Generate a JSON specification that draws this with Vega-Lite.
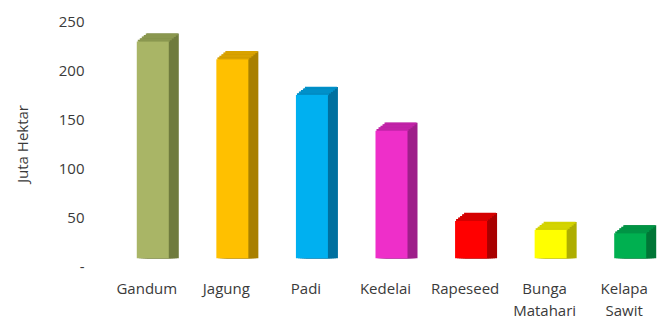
{
  "$schema": "https://vega.github.io/schema/vega-lite/v6.json",
  "width": 557,
  "height": 245,
  "autosize": "none",
  "padding": {"left": 107, "top": 21, "right": 6, "bottom": 61},
  "background": "white",
  "config": {
    "view": {"stroke": null},
    "font": "Open Sans",
    "axis": {"labelFont": "Open Sans", "titleFont": "Open Sans", "labelColor": "#3A3A3A", "titleColor": "#3A3A3A"}
  },
  "data": {
    "values": [
      {"tanaman": "Gandum", "luas": 229},
      {"tanaman": "Jagung", "luas": 211},
      {"tanaman": "Padi", "luas": 174.5},
      {"tanaman": "Kedelai", "luas": 138},
      {"tanaman": "Rapeseed", "luas": 46},
      {"tanaman": "Bunga Matahari", "luas": 36.7},
      {"tanaman": "Kelapa Sawit", "luas": 33.3}
    ]
  },
  "encoding": {
    "x": {
      "field": "tanaman", "type": "nominal", "sort": null,
      "scale": {"paddingInner": 0, "paddingOuter": 0},
      "axis": {"title": null, "domain": false, "ticks": false, "labelAngle": 0, "labelFontSize": 15, "labelPadding": 15, "labelLineHeight": 22, "labelExpr": "split(datum.label, ' ')"}
    },
    "y": {
      "field": "luas", "type": "quantitative",
      "scale": {"domain": [0, 250], "nice": false},
      "axis": {"title": "Juta Hektar", "titleFontSize": 15, "titleFontWeight": "normal", "titlePadding": 28, "grid": false, "domain": false, "ticks": false, "labelPadding": 23, "labelFontSize": 15, "values": [0, 50, 100, 150, 200, 250], "labelExpr": "datum.value == 0 ? '-' : datum.label"}
    }
  },
  "resolve": {"scale": {"color": "independent"}},
  "layer": [
    {
      "encoding": {
        "y2": {"datum": 8},
        "color": {"field": "tanaman", "type": "nominal", "legend": null,
          "scale": {"domain": ["Gandum", "Jagung", "Padi", "Kedelai", "Rapeseed", "Bunga Matahari", "Kelapa Sawit"],
                    "range": ["#6F7B3D", "#A98000", "#00709F", "#9E1F8A", "#A80000", "#AEAE00", "#007636"]}}
      },
      "layer": [
        {"mark": {"type": "bar", "width": 32, "xOffset": 8, "yOffset": -1.6}},
        {"mark": {"type": "bar", "width": 32, "xOffset": 10, "yOffset": -3.2}},
        {"mark": {"type": "bar", "width": 32, "xOffset": 12, "yOffset": -4.8}},
        {"mark": {"type": "bar", "width": 32, "xOffset": 14, "yOffset": -6.4}},
        {"mark": {"type": "bar", "width": 32, "xOffset": 16, "yOffset": -8}}
      ]
    },
    {
      "encoding": {
        "color": {"field": "tanaman", "type": "nominal", "legend": null,
          "scale": {"domain": ["Gandum", "Jagung", "Padi", "Kedelai", "Rapeseed", "Bunga Matahari", "Kelapa Sawit"],
                    "range": ["#8A974F", "#D9A200", "#0090C9", "#C223A8", "#D60000", "#D4D400", "#009445"]}}
      },
      "layer": [
        {"mark": {"type": "tick", "size": 32, "thickness": 2, "opacity": 1, "xOffset": 7, "yOffset": -0.8}},
        {"mark": {"type": "tick", "size": 32, "thickness": 2, "opacity": 1, "xOffset": 9, "yOffset": -2.4}},
        {"mark": {"type": "tick", "size": 32, "thickness": 2, "opacity": 1, "xOffset": 11, "yOffset": -4}},
        {"mark": {"type": "tick", "size": 32, "thickness": 2, "opacity": 1, "xOffset": 13, "yOffset": -5.6}},
        {"mark": {"type": "tick", "size": 32, "thickness": 2, "opacity": 1, "xOffset": 15, "yOffset": -7.2}}
      ]
    },
    {
      "mark": {"type": "bar", "width": 32, "xOffset": 6},
      "encoding": {
        "y2": {"datum": 8},
        "color": {"field": "tanaman", "type": "nominal", "legend": null,
          "scale": {"domain": ["Gandum", "Jagung", "Padi", "Kedelai", "Rapeseed", "Bunga Matahari", "Kelapa Sawit"],
                    "range": ["#A9B566", "#FFC000", "#00B0F0", "#EE2FC9", "#FF0000", "#FFFF00", "#00B050"]}}
      }
    }
  ]
}
